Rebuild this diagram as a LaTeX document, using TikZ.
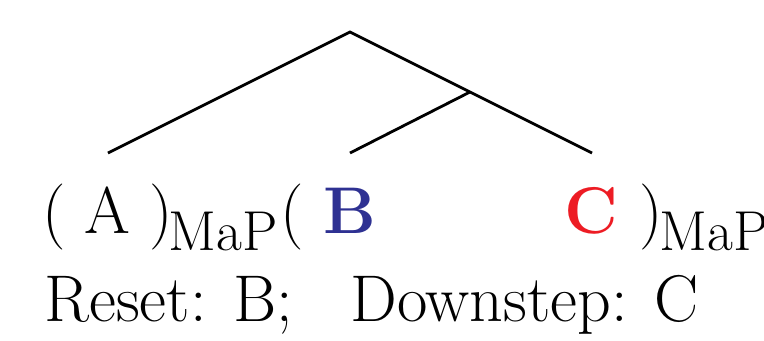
\documentclass[tikz,border=0pt]{standalone}
\usepackage{tikz}
\usepackage[dvipsnames]{xcolor}
\usetikzlibrary{positioning}
\definecolor{resetblue}{HTML}{2E3192}
\definecolor{downred}{HTML}{ED1C24}
\begin{document}
\begin{tikzpicture}[
  line width=0.8pt,
  every node/.style={inner sep=0pt,font=\fontsize{18.8}{23}\selectfont},
  word/.style={anchor=base},
  lword/.style={anchor=base west},
  sub/.style={anchor=base west,font=\fontsize{16}{19}\selectfont}
]
\useasboundingbox (0,0) rectangle (7.64,3.40);
% tree
\coordinate (root) at (3.50,3.08);
\coordinate (mid) at (4.70,2.48);
\coordinate (leafA) at (1.08,1.87);
\coordinate (leafB) at (3.50,1.87);
\coordinate (leafC) at (5.92,1.87);
\draw (leafA) -- (root) -- (leafC);
\draw (mid) -- (leafB);

% phrase
\node[lword] (open1) at (0.41,1.07) {(};
\node[word] (A) at (1.07,1.07) {A};
\node[lword] (close1) at (1.48,1.07) {)};
\node[sub] (map1) at (1.67,0.90) {MaP};
\node[lword] (open2) at (2.79,1.07) {(};
\node[word,text=resetblue] (B) at (3.50,1.07) {\textbf{B}};
\node[word,text=downred] (C) at (5.91,1.07) {\textbf{C}};
\node[lword] (close2) at (6.38,1.07) {)};
\node[sub] (map2) at (6.58,0.90) {MaP};

% tones
\node[lword] (reset) at (0.43,0.19) {Reset: B;};
\node[lword] (downstep) at (3.49,0.19) {Downstep: C};
\end{tikzpicture}
\end{document}
